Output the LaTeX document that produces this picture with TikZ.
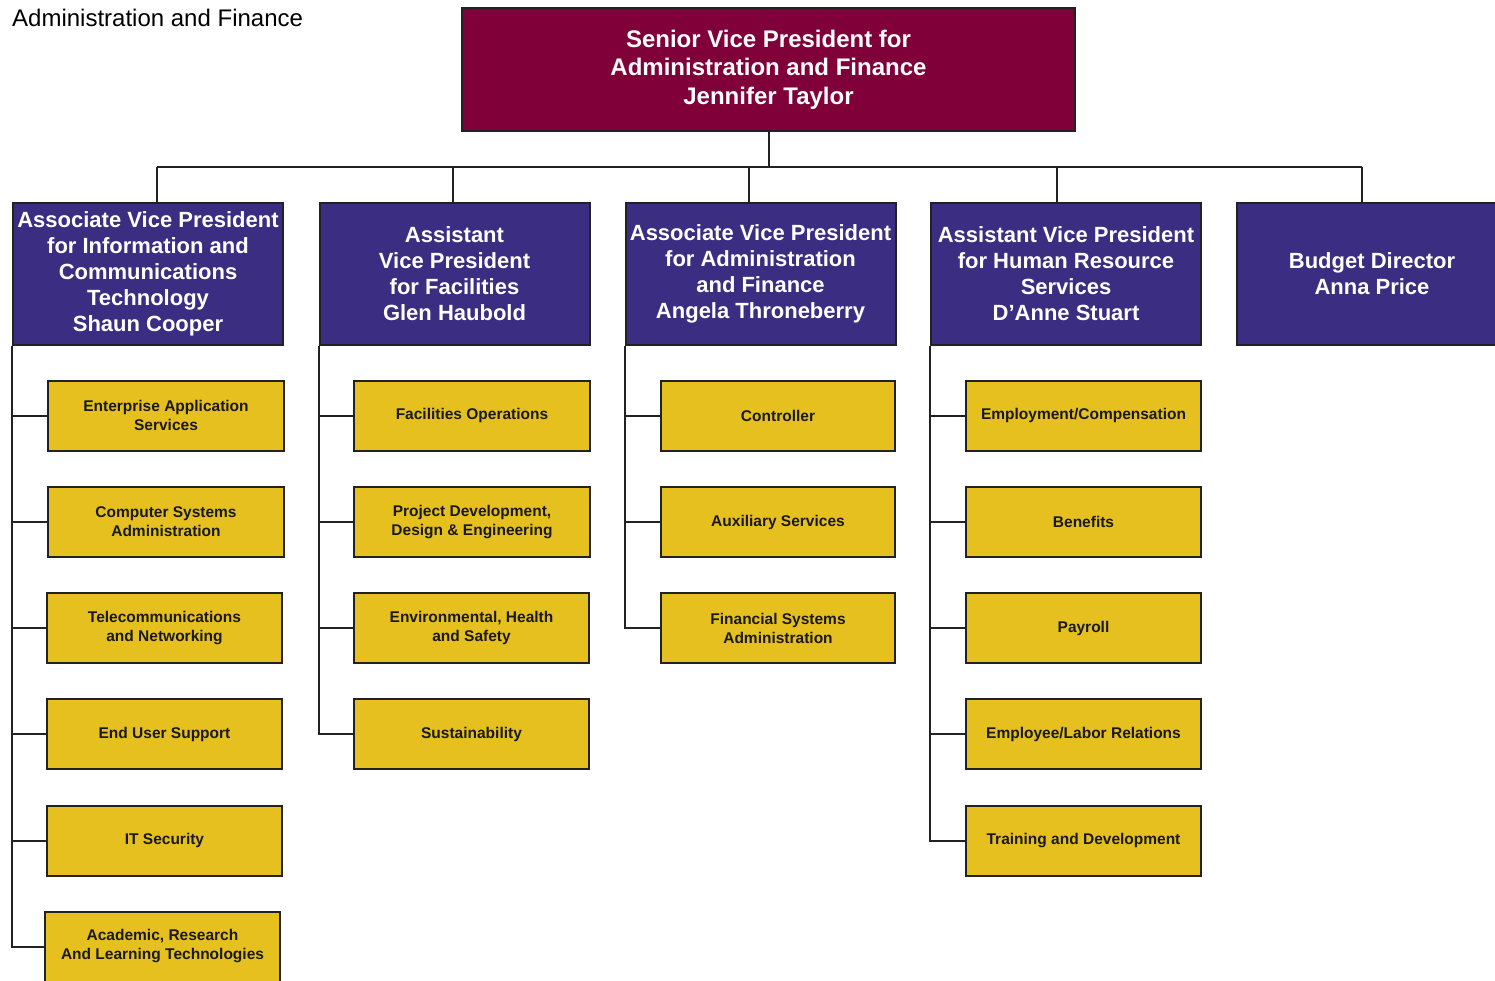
\documentclass[tikz,border=0pt]{standalone}
\usepackage{fontspec}
\setmainfont{Liberation Sans}
\definecolor{svpred}{HTML}{80003A}
\definecolor{vpblue}{HTML}{3B2D82}
\definecolor{unityellow}{HTML}{E6C01E}
\definecolor{edge}{HTML}{222222}
\begin{document}
\begin{tikzpicture}[x=1pt,y=-1pt,
  topbox/.style={draw=edge,line width=2pt,fill=svpred,text=white,inner sep=0pt,align=center,
    font=\fontsize{24}{28.5}\selectfont\bfseries,minimum width=613pt,minimum height=123pt},
  vpbox/.style={draw=edge,line width=2pt,fill=vpblue,text=white,inner sep=0pt,align=center,
    font=\fontsize{22}{26}\selectfont\bfseries,minimum width=270pt,minimum height=142pt},
  unitbox/.style={draw=edge,line width=2pt,fill=unityellow,text=black!90,inner sep=0pt,align=center,
    font=\fontsize{15.5}{19}\selectfont\bfseries,minimum width=235pt,minimum height=70pt},
  link/.style={draw=edge,line width=2pt}]
\useasboundingbox (0,0) rectangle (1495,980);

\node[anchor=base west,inner sep=0pt,font=\fontsize{24}{28}\selectfont] (title) at (12,26) {Administration and Finance};

\node[topbox] (svp) at (768.5,69.5) {Senior Vice President for\\Administration and Finance\\Jennifer Taylor};

\node[vpbox] (a1) at (148,274) {Associate Vice President\\for Information and\\Communications\\Technology\\Shaun Cooper};
\node[vpbox] (a2) at (454.5,274) {Assistant\\Vice President\\for Facilities\\Glen Haubold};
\node[vpbox] (a3) at (760.5,274) {Associate Vice President\\for Administration\\and Finance\\Angela Throneberry};
\node[vpbox] (a4) at (1066,274) {Assistant Vice President\\for Human Resource\\Services\\D’Anne Stuart};
\node[vpbox] (a5) at (1372,274) {Budget Director\\Anna Price};

% bus
\coordinate (bus) at (768,167);
\coordinate (d1) at (157,167);
\coordinate (d2) at (453,167);
\coordinate (d3) at (749,167);
\coordinate (d4) at (1057,167);
\coordinate (d5) at (1362,167);
\draw[link] (svp.south) -- (svp.south |- bus);
\draw[link] (d1) -- (d5);
\draw[link] (d1) -- (d1 |- a1.north);
\draw[link] (d2) -- (d2 |- a2.north);
\draw[link] (d3) -- (d3 |- a3.north);
\draw[link] (d4) -- (d4 |- a4.north);
\draw[link] (d5) -- (d5 |- a5.north);

% column 1
\node[unitbox,minimum width=236pt] (u11) at (166,415.5) {Enterprise Application\\Services};
\node[unitbox,minimum width=236pt] (u12) at (166,522) {Computer Systems\\Administration};
\node[unitbox] (u13) at (164.5,628) {Telecommunications\\and Networking};
\node[unitbox] (u14) at (164.5,734) {End User Support};
\node[unitbox] (u15) at (164.5,840.5) {IT Security};
\node[unitbox] (u16) at (162.5,946.5) {Academic, Research\\And Learning Technologies};

% column 2
\node[unitbox,minimum width=236pt] (u21) at (472,415.5) {Facilities Operations};
\node[unitbox,minimum width=236pt] (u22) at (472,522) {Project Development,\\Design \& Engineering};
\node[unitbox] (u23) at (471.5,628) {Environmental, Health\\and Safety};
\node[unitbox] (u24) at (471.5,734) {Sustainability};

% column 3
\node[unitbox,minimum width=234pt] (u31) at (778,415.5) {Controller};
\node[unitbox,minimum width=234pt] (u32) at (778,522) {Auxiliary Services};
\node[unitbox,minimum width=234pt] (u33) at (778,628) {Financial Systems\\Administration};

% column 4
\node[unitbox] (u41) at (1083.5,415.5) {Employment/Compensation};
\node[unitbox] (u42) at (1083.5,522) {Benefits};
\node[unitbox] (u43) at (1083.5,628) {Payroll};
\node[unitbox] (u44) at (1083.5,734) {Employee/Labor Relations};
\node[unitbox] (u45) at (1083.5,840.5) {Training and Development};

% spines
\draw[link] (a1.south west) |- (u16.west);
\foreach \u in {u11,u12,u13,u14,u15} \draw[link] (\u.west) -- (\u.west -| a1.south west);
\draw[link] (a2.south west) |- (u24.west);
\foreach \u in {u21,u22,u23} \draw[link] (\u.west) -- (\u.west -| a2.south west);
\draw[link] (a3.south west) |- (u33.west);
\foreach \u in {u31,u32} \draw[link] (\u.west) -- (\u.west -| a3.south west);
\draw[link] (a4.south west) |- (u45.west);
\foreach \u in {u41,u42,u43,u44} \draw[link] (\u.west) -- (\u.west -| a4.south west);
\end{tikzpicture}
\end{document}
